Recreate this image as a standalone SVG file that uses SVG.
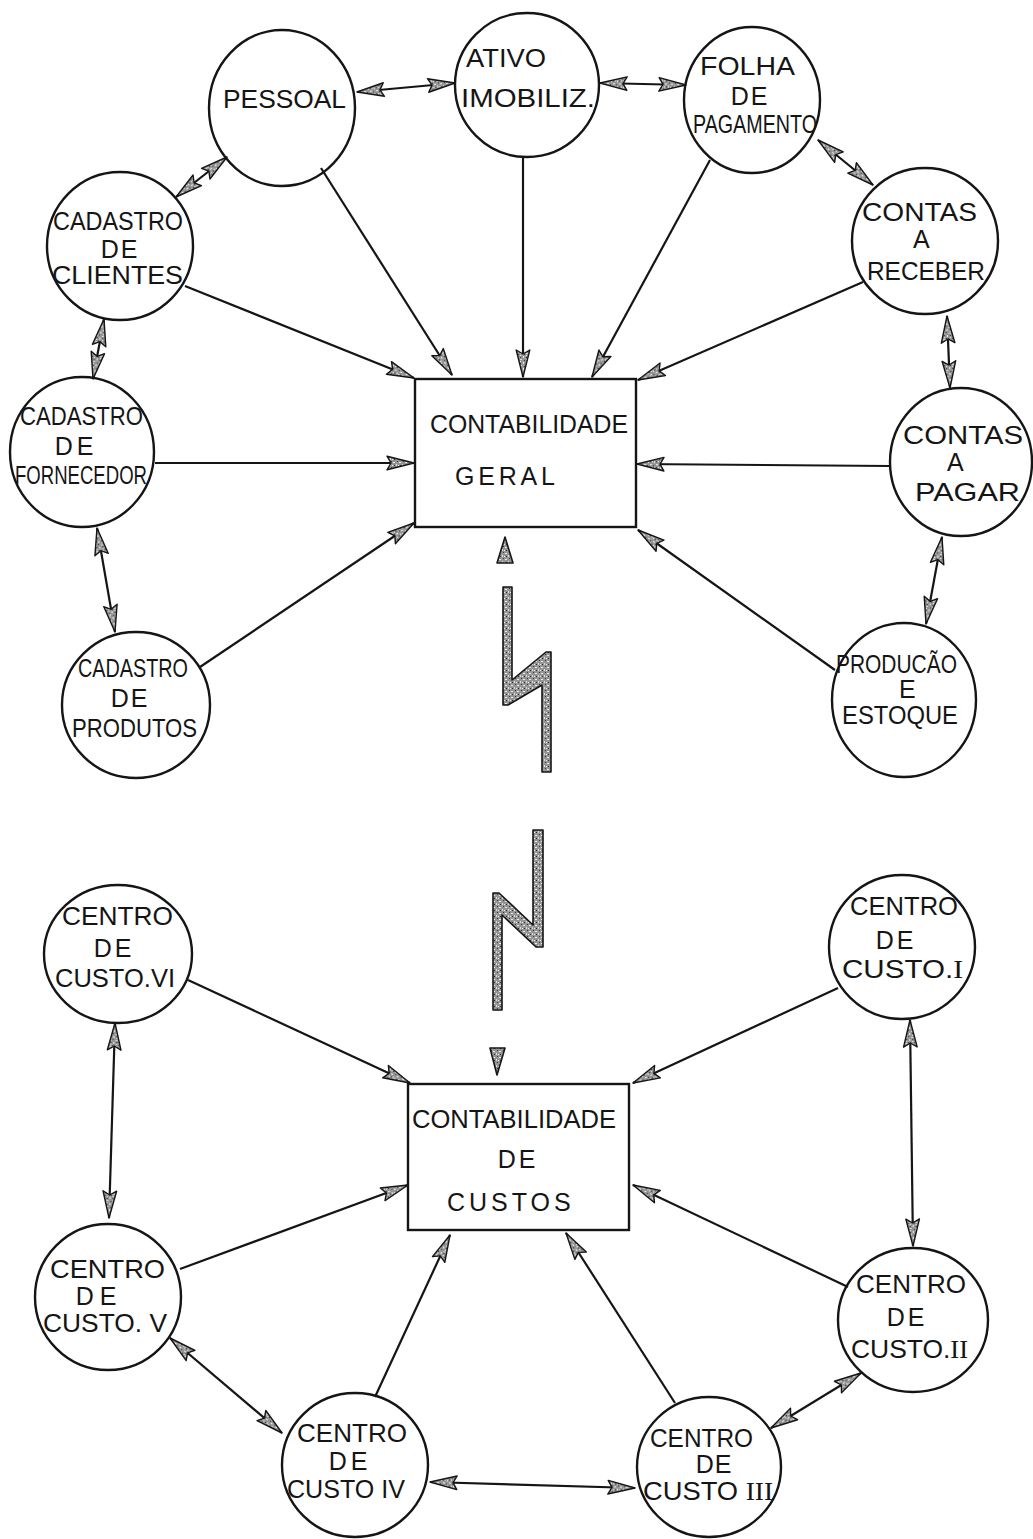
<svg xmlns="http://www.w3.org/2000/svg" width="1033" height="1539" viewBox="0 0 1033 1539">
  <style>
    .shape { fill: none; stroke: #151515; stroke-width: 2.4; }
    .lbl { font-family: "Liberation Sans", Arial, sans-serif; font-size: 25px; fill: #151515; }
    .mid { text-anchor: middle; }
    .rn { font-family: "Liberation Serif", "Times New Roman", serif; }
    .link { fill: none; stroke: #151515; stroke-width: 2.2; }
    .one { marker-end: url(#head); }
    .two { marker-start: url(#head); marker-end: url(#head); }
    .grey { fill: url(#grain); stroke: #151515; stroke-width: 1.6; stroke-linejoin: round; }
  </style>
  <defs>
    <!-- speckled grey used by the arrowheads and the bolts -->
    <pattern id="grain" width="6" height="6" patternUnits="userSpaceOnUse">
      <rect width="6" height="6" fill="#959595"/>
      <rect x="1" y="1" width="2" height="1" fill="#ececec"/>
      <rect x="4" y="3" width="1" height="2" fill="#dcdcdc"/>
      <rect x="0" y="4" width="1" height="1" fill="#f2f2f2"/>
      <rect x="2" y="4" width="1" height="1" fill="#2a2a2a"/>
      <rect x="5" y="0" width="1" height="1" fill="#3a3a3a"/>
    </pattern>
    <marker id="head" viewBox="0 0 30 16" markerWidth="30" markerHeight="16" refX="28" refY="8" orient="auto-start-reverse" markerUnits="userSpaceOnUse">
      <path d="M1,1.2 L28,8 L1,14.8 L5,8 Z" fill="url(#grain)" stroke="#151515" stroke-width="1.4" stroke-linejoin="round"/>
    </marker>
  </defs>

  <!-- ===== connectors ===== -->
  <g id="connectors">
    <!-- ring of the general-ledger systems -->
    <path class="link two" d="M357,92 L455,83"/>
    <path class="link two" d="M600,83 L686,85"/>
    <path class="link two" d="M818,140 L873,185"/>
    <path class="link two" d="M947,316 L950,388"/>
    <path class="link two" d="M942,537 L926,624"/>
    <path class="link two" d="M227,157 L176,197"/>
    <path class="link two" d="M104,319 L93,379"/>
    <path class="link two" d="M97,528 L115,632"/>
    <!-- feeds into CONTABILIDADE GERAL -->
    <path class="link one" d="M185,286 L414,378"/>
    <path class="link one" d="M321,168 L452,375"/>
    <path class="link one" d="M523,157 L523,377"/>
    <path class="link one" d="M710,160 L592,377"/>
    <path class="link one" d="M863,282 L638,380"/>
    <path class="link one" d="M890,466 L637,464"/>
    <path class="link one" d="M835,670 L638,530"/>
    <path class="link one" d="M155,463 L414,463"/>
    <path class="link one" d="M200,667 L414,523"/>

    <!-- lightning link between the two ledgers -->
    <polygon class="grey" points="505,537 513,563 497,563"/>
    <polygon class="grey" points="503,587 512,587 512,680 546,652 551,652 551,772 542,772 542,685 508,705 503,705"/>
    <polygon class="grey" points="533,830 543,830 543,947 536,947 502,915 502,1010 493,1010 493,893 499,893 533,925"/>
    <polygon class="grey" points="490,1048 505,1048 497,1075"/>

    <!-- feeds into CONTABILIDADE DE CUSTOS -->
    <path class="link one" d="M188,980 L410,1083"/>
    <path class="link one" d="M838,988 L633,1083"/>
    <path class="link one" d="M180,1269 L408,1185"/>
    <path class="link one" d="M848,1287 L633,1185"/>
    <path class="link one" d="M375,1397 L450,1235"/>
    <path class="link one" d="M675,1403 L566,1233"/>
    <!-- ring of the cost centres -->
    <path class="link two" d="M115,1023 L109,1218"/>
    <path class="link two" d="M910,1020 L913,1246"/>
    <path class="link two" d="M170,1338 L282,1433"/>
    <path class="link two" d="M861,1373 L771,1428"/>
    <path class="link two" d="M430,1482 L635,1488"/>
  </g>

  <!-- ===== general ledger side ===== -->
  <g id="pessoal">
    <ellipse class="shape" cx="282" cy="108" rx="73" ry="78"/>
    <text class="lbl" x="223" y="108" font-size="26" textLength="123" lengthAdjust="spacingAndGlyphs">PESSOAL</text>
  </g>
  <g id="ativo-imobilizado">
    <ellipse class="shape" cx="527" cy="85" rx="72" ry="72"/>
    <text class="lbl" x="466" y="67" font-size="26" textLength="80" lengthAdjust="spacingAndGlyphs">ATIVO</text>
    <text class="lbl" x="461" y="107" font-size="26" textLength="134" lengthAdjust="spacingAndGlyphs">IMOBILIZ.</text>
  </g>
  <g id="folha-pagamento">
    <ellipse class="shape" cx="752" cy="100" rx="68" ry="73"/>
    <text class="lbl" x="700" y="75" font-size="24" textLength="95" lengthAdjust="spacingAndGlyphs">FOLHA</text>
    <text class="lbl mid" x="750" y="105" font-size="24" letter-spacing="2">DE</text>
    <text class="lbl" x="693" y="133" font-size="22" textLength="124" lengthAdjust="spacingAndGlyphs">PAGAMENTO</text>
  </g>
  <g id="contas-receber">
    <ellipse class="shape" cx="925" cy="241" rx="73" ry="73"/>
    <text class="lbl" x="862" y="221" font-size="26" textLength="115" lengthAdjust="spacingAndGlyphs">CONTAS</text>
    <text class="lbl" x="913" y="248" font-size="18">A</text>
    <text class="lbl" x="867" y="280" font-size="26" textLength="118" lengthAdjust="spacingAndGlyphs">RECEBER</text>
  </g>
  <g id="contas-pagar">
    <ellipse class="shape" cx="961" cy="462" rx="71" ry="74"/>
    <text class="lbl" x="903" y="444" textLength="120" lengthAdjust="spacingAndGlyphs">CONTAS</text>
    <text class="lbl" x="947" y="471" font-size="19">A</text>
    <text class="lbl" x="915" y="501" textLength="105" lengthAdjust="spacingAndGlyphs">PAGAR</text>
  </g>
  <g id="producao-estoque">
    <ellipse class="shape" cx="904" cy="700" rx="72" ry="77"/>
    <text class="lbl" x="836" y="673" font-size="19" textLength="121" lengthAdjust="spacingAndGlyphs">PRODUCÃO</text>
    <text class="lbl" x="899" y="698" font-size="16">E</text>
    <text class="lbl" x="842" y="724" font-size="19" textLength="116" lengthAdjust="spacingAndGlyphs">ESTOQUE</text>
  </g>
  <g id="cadastro-clientes">
    <ellipse class="shape" cx="120" cy="246" rx="73" ry="74"/>
    <text class="lbl" x="53" y="230" font-size="27" textLength="130" lengthAdjust="spacingAndGlyphs">CADASTRO</text>
    <text class="lbl mid" x="120" y="258" font-size="26" letter-spacing="2">DE</text>
    <text class="lbl" x="52" y="284" font-size="26" textLength="131" lengthAdjust="spacingAndGlyphs">CLIENTES</text>
  </g>
  <g id="cadastro-fornecedor">
    <ellipse class="shape" cx="82" cy="452" rx="72" ry="75"/>
    <text class="lbl" x="20" y="425" font-size="24" textLength="123" lengthAdjust="spacingAndGlyphs">CADASTRO</text>
    <text class="lbl mid" x="76" y="455" font-size="24" letter-spacing="4">DE</text>
    <text class="lbl" x="15" y="484" font-size="24" textLength="132" lengthAdjust="spacingAndGlyphs">FORNECEDOR</text>
  </g>
  <g id="cadastro-produtos">
    <ellipse class="shape" cx="136" cy="705" rx="74" ry="73"/>
    <text class="lbl" x="78" y="677" font-size="24" textLength="110" lengthAdjust="spacingAndGlyphs">CADASTRO</text>
    <text class="lbl mid" x="130" y="707" font-size="24" letter-spacing="2">DE</text>
    <text class="lbl" x="72" y="737" font-size="24" textLength="125" lengthAdjust="spacingAndGlyphs">PRODUTOS</text>
  </g>
  <g id="contabilidade-geral">
    <rect class="shape" x="415" y="379" width="221" height="148"/>
    <text class="lbl" x="430" y="433" textLength="198" lengthAdjust="spacingAndGlyphs">CONTABILIDADE</text>
    <text class="lbl" x="455" y="485" letter-spacing="3.8">GERAL</text>
  </g>

  <!-- ===== cost accounting side ===== -->
  <g id="contabilidade-custos">
    <rect class="shape" x="408" y="1084" width="221" height="146"/>
    <text class="lbl" x="412" y="1128" textLength="204" lengthAdjust="spacingAndGlyphs">CONTABILIDADE</text>
    <text class="lbl mid" x="518" y="1168" letter-spacing="3">DE</text>
    <text class="lbl" x="447" y="1211" letter-spacing="4">CUSTOS</text>
  </g>
  <g id="centro-custo-1">
    <ellipse class="shape" cx="902" cy="947" rx="73" ry="72"/>
    <text class="lbl" x="850" y="915" font-size="26" textLength="108" lengthAdjust="spacingAndGlyphs">CENTRO</text>
    <text class="lbl mid" x="896" y="949" font-size="26" letter-spacing="3">DE</text>
    <text class="lbl" x="842" y="978" font-size="26" textLength="121" lengthAdjust="spacingAndGlyphs">CUSTO.<tspan class="rn">I</tspan></text>
  </g>
  <g id="centro-custo-2">
    <ellipse class="shape" cx="913" cy="1320" rx="75" ry="72"/>
    <text class="lbl" x="856" y="1293" textLength="110" lengthAdjust="spacingAndGlyphs">CENTRO</text>
    <text class="lbl mid" x="907" y="1326" letter-spacing="3">DE</text>
    <text class="lbl" x="851" y="1358" textLength="117" lengthAdjust="spacingAndGlyphs">CUSTO.<tspan class="rn">II</tspan></text>
  </g>
  <g id="centro-custo-3">
    <ellipse class="shape" cx="709" cy="1467" rx="72" ry="70"/>
    <text class="lbl" x="650" y="1447" font-size="24" textLength="103" lengthAdjust="spacingAndGlyphs">CENTRO</text>
    <text class="lbl mid" x="714" y="1473" font-size="24" letter-spacing="1">DE</text>
    <text class="lbl" x="643" y="1500" font-size="24" textLength="130" lengthAdjust="spacingAndGlyphs">CUSTO <tspan class="rn">III</tspan></text>
  </g>
  <g id="centro-custo-4">
    <ellipse class="shape" cx="355" cy="1465" rx="73" ry="72"/>
    <text class="lbl" x="297" y="1442" font-size="25" textLength="110" lengthAdjust="spacingAndGlyphs">CENTRO</text>
    <text class="lbl mid" x="350" y="1470" font-size="25" letter-spacing="4">DE</text>
    <text class="lbl" x="287" y="1498" font-size="25" textLength="118" lengthAdjust="spacingAndGlyphs">CUSTO IV</text>
  </g>
  <g id="centro-custo-5">
    <ellipse class="shape" cx="108" cy="1297" rx="73" ry="73"/>
    <text class="lbl" x="50" y="1278" font-size="24" textLength="115" lengthAdjust="spacingAndGlyphs">CENTRO</text>
    <text class="lbl mid" x="99" y="1305" font-size="24" letter-spacing="6">DE</text>
    <text class="lbl" x="43" y="1332" font-size="24" textLength="124" lengthAdjust="spacingAndGlyphs">CUSTO. V</text>
  </g>
  <g id="centro-custo-6">
    <ellipse class="shape" cx="118" cy="954" rx="74" ry="69"/>
    <text class="lbl" x="62" y="925" textLength="111" lengthAdjust="spacingAndGlyphs">CENTRO</text>
    <text class="lbl mid" x="114" y="957" letter-spacing="3">DE</text>
    <text class="lbl" x="55" y="987" textLength="120" lengthAdjust="spacingAndGlyphs">CUSTO.VI</text>
  </g>
</svg>
